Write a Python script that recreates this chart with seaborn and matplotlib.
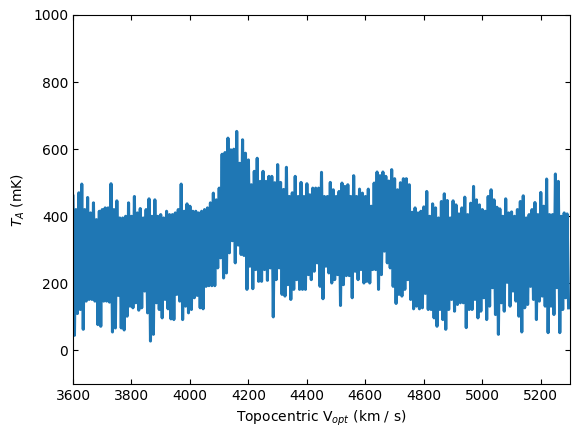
import matplotlib
matplotlib.use("Agg")
import matplotlib.pyplot as plt
import seaborn as sns
import numpy as np
import pandas as pd

# spectrum: peaks (every 10 km/s from 3600) and dips (offset by 5 km/s)
vel_peak = np.arange(3600, 5300, 10)
vel_dip = vel_peak + 5

ta_peak = [
    460, 420, 470, 496, 420, 456, 410, 440, 390, 415,   # 3600-3690
    420, 425, 425, 497, 420, 446, 395, 395, 400, 440,   # 3700-3790
    400, 459, 410, 423, 395, 420, 452, 400, 449, 400,   # 3800-3890
    405, 395, 415, 405, 405, 410, 420, 496, 415, 437,   # 3900-3990
    430, 415, 415, 410, 415, 420, 425, 440, 469, 449,   # 4000-4090
    484, 585, 590, 633, 598, 600, 653, 558, 628, 588,   # 4100-4190
    568, 494, 534, 573, 504, 534, 504, 519, 519, 500,   # 4200-4290
    554, 501, 480, 546, 459, 470, 519, 459, 501, 459,   # 4300-4390
    497, 464, 484, 484, 484, 531, 459, 459, 501, 479,   # 4400-4490
    459, 474, 499, 489, 494, 459, 521, 459, 481, 469,   # 4500-4590
    459, 481, 430, 499, 532, 521, 532, 519, 505, 539,   # 4600-4690
    512, 479, 500, 512, 512, 494, 412, 425, 410, 415,   # 4700-4790
    428, 474, 400, 437, 425, 395, 444, 467, 447, 395,   # 4800-4890
    446, 434, 407, 425, 457, 405, 439, 489, 449, 434,   # 4900-4990
    420, 415, 459, 479, 449, 427, 422, 400, 452, 410,   # 5000-5090
    413, 400, 420, 444, 461, 395, 405, 420, 441, 405,   # 5100-5190
    471, 430, 511, 405, 405, 526, 504, 400, 410, 407,   # 5200-5290
]

ta_dip = [
    45, 110, 122, 63, 147, 152, 152, 147, 77, 72,        # 3605-3695
    147, 147, 144, 55, 67, 164, 67, 61, 102, 132,        # 3705-3795
    127, 142, 120, 127, 177, 112, 28, 48, 142, 122,      # 3805-3895
    97, 152, 124, 94, 92, 167, 147, 92, 132, 112,        # 3905-3995
    122, 157, 164, 127, 124, 191, 193, 193, 193, 246,    # 4005-4095
    276, 216, 231, 291, 327, 261, 314, 286, 283, 182,    # 4105-4195
    251, 184, 241, 206, 206, 241, 209, 246, 100, 211,    # 4205-4295
    246, 167, 162, 196, 152, 182, 211, 182, 182, 182,    # 4305-4395
    226, 211, 236, 261, 191, 154, 251, 231, 201, 211,    # 4405-4495
    226, 134, 196, 223, 223, 157, 236, 211, 241, 201,    # 4505-4595
    206, 201, 241, 241, 182, 226, 296, 261, 246, 191,    # 4605-4695
    140, 167, 162, 182, 211, 152, 124, 132, 124, 127,    # 4705-4795
    170, 122, 122, 97, 72, 122, 92, 63, 122, 152,        # 4805-4895
    117, 137, 142, 142, 68, 122, 122, 152, 97, 117,      # 4905-4995
    157, 92, 132, 187, 107, 48, 142, 117, 203, 132,      # 5005-5095
    177, 147, 102, 55, 127, 137, 191, 152, 92, 147,      # 5105-5195
    162, 132, 53, 132, 107, 187, 53, 122, 157, 127,      # 5205-5295
]

# zig-zag between peaks and dips, channel by channel
vel = np.column_stack([vel_peak, vel_dip]).ravel()
ta = np.column_stack([ta_peak, ta_dip]).ravel()
df = pd.DataFrame({"vel": vel, "ta": ta})

fig = plt.figure(figsize=(5.78, 4.38), dpi=100)
ax = fig.add_axes([0.1263, 0.1233, 0.8599, 0.8425])

sns.lineplot(data=df, x="vel", y="ta", sort=False, estimator=None,
             color="#1f77b4", linewidth=2.2, ax=ax)

ax.set_xlim(3600, 5300)
ax.set_ylim(-100, 1000)
ax.set_xticks(np.arange(3600, 5201, 200))
ax.set_yticks(np.arange(0, 1001, 200))
ax.tick_params(direction="in", top=True, right=True, labelsize=10)
ax.set_xlabel("Topocentric V$_{opt}$ (km / s)", fontsize=10)
ax.set_ylabel("$T_A$ (mK)", fontsize=10)

fig.savefig("out.png", dpi=100)
